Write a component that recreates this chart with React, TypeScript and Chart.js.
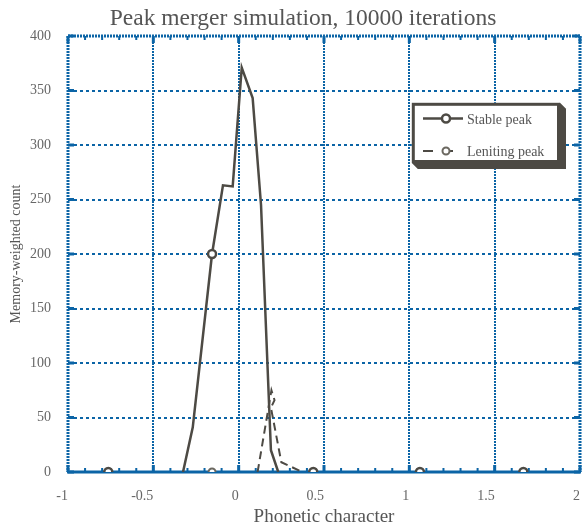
import { useEffect, useRef } from 'react';
import { Chart, registerables } from 'chart.js';

Chart.register(...registerables);

const TITLE = 'Peak merger simulation, 10000 iterations';
const X_TITLE = 'Phonetic character';
const Y_TITLE = 'Memory-weighted count';
const SERIES_NAMES = ['Stable peak', 'Leniting peak'];

const xTickValues = [-1, -0.5, 0, 0.5, 1, 1.5, 2];
const xTickLabels = ['-1', '-0.5', '0', '0.5', '1', '1.5', '2'];
const yTickValues = [0, 50, 100, 150, 200, 250, 300, 350, 400];

const stableX = [-1, -0.764, -0.326, -0.269, -0.156, -0.092, -0.035, 0.018, 0.082, 0.131, 0.189, 0.232, 0.437, 1.062, 1.668, 2];
const stableY = [0, 0, 0, 41, 200, 263, 262, 371, 343, 245, 20, 0, 0, 0, 0, 0];
const stableMarked = [false, true, false, false, true, false, false, false, false, false, false, false, true, true, true, false];

const lenitingX = [-1, -0.764, -0.156, 0.111, 0.192, 0.21, 0.189, 0.25, 0.373, 0.437, 1.062, 1.668, 2];
const lenitingY = [0, 0, 0, 0, 75, 66, 59, 9, 0, 0, 0, 0, 0];
const lenitingMarked = [false, true, true, false, false, false, false, false, false, true, true, true, false];

const BLUE = '#0b64a6';
const DARK = '#4d4a44';
const TEXT = '#555555';
const SERIF = "'Liberation Serif', 'Times New Roman', serif";
const CLEAR = 'rgba(0,0,0,0)';

const framePlugin = {
  id: 'frame',
  beforeDatasetsDraw(chart: any) {
    const { ctx } = chart;
    const xs = chart.scales.x;
    const ys = chart.scales.y;
    const l = xs.getPixelForValue(xTickValues[0]);
    const r = xs.getPixelForValue(xTickValues[xTickValues.length - 1]);
    const b = ys.getPixelForValue(yTickValues[0]);
    const t = ys.getPixelForValue(yTickValues[yTickValues.length - 1]);
    ctx.save();
    ctx.strokeStyle = BLUE;
    ctx.lineWidth = 3;
    ctx.setLineDash([2, 1]);
    ctx.beginPath();
    ctx.moveTo(l, t); ctx.lineTo(r, t);
    ctx.moveTo(l, t); ctx.lineTo(l, b);
    ctx.moveTo(r, t); ctx.lineTo(r, b);
    ctx.stroke();
    ctx.setLineDash([]);
    ctx.beginPath();
    ctx.moveTo(l - 1, b); ctx.lineTo(r + 1, b);
    ctx.stroke();
    const lo = xTickValues[0];
    const hi = xTickValues[xTickValues.length - 1];
    const n = Math.round((hi - lo) / 0.1);
    for (let k = 0; k <= n; k++) {
      const v = lo + k * 0.1;
      const px = xs.getPixelForValue(v);
      const major = k % 5 === 0;
      ctx.lineWidth = major ? 3 : 2;
      const len = major ? 7 : 4;
      ctx.beginPath();
      ctx.moveTo(px, b); ctx.lineTo(px, b - len);
      ctx.moveTo(px, t); ctx.lineTo(px, t + len);
      ctx.stroke();
    }
    ctx.lineWidth = 3;
    for (const v of yTickValues) {
      const py = ys.getPixelForValue(v);
      ctx.beginPath();
      ctx.moveTo(l, py); ctx.lineTo(l + 6, py);
      ctx.moveTo(r, py); ctx.lineTo(r - 6, py);
      ctx.stroke();
    }
    ctx.restore();
  },
};

const titleLegendPlugin = {
  id: 'titleLegend',
  afterDraw(chart: any) {
    const { ctx } = chart;
    ctx.save();
    ctx.fillStyle = TEXT;
    ctx.font = `23.5px ${SERIF}`;
    ctx.textAlign = 'center';
    ctx.textBaseline = 'alphabetic';
    ctx.fillText(TITLE, 303, 25);

    const ox1 = 411.8, oy1 = 102.8, ox2 = 560, oy2 = 163, sh = 6;
    ctx.fillStyle = DARK;
    ctx.beginPath();
    ctx.moveTo(ox2, oy1);
    ctx.lineTo(ox2 + sh, oy1 + sh);
    ctx.lineTo(ox2 + sh, oy2 + sh);
    ctx.lineTo(ox1 + sh, oy2 + sh);
    ctx.lineTo(ox1, oy2);
    ctx.closePath();
    ctx.fill();
    ctx.fillStyle = '#ffffff';
    ctx.fillRect(ox1, oy1, ox2 - ox1, oy2 - oy1);
    ctx.lineWidth = 3;
    ctx.strokeStyle = DARK;
    ctx.strokeRect(ox1 + 1.5, oy1 + 1.5, ox2 - ox1 - 3, oy2 - oy1 - 3);

    const y1 = 118.5;
    ctx.lineWidth = 2.5;
    ctx.beginPath();
    ctx.moveTo(423, y1); ctx.lineTo(463, y1);
    ctx.stroke();
    ctx.fillStyle = '#ffffff';
    ctx.beginPath();
    ctx.arc(446, y1, 4, 0, Math.PI * 2);
    ctx.fill();
    ctx.stroke();
    const y2 = 151;
    ctx.lineWidth = 2;
    ctx.setLineDash([10, 10]);
    ctx.beginPath();
    ctx.moveTo(423, y2); ctx.lineTo(463, y2);
    ctx.stroke();
    ctx.setLineDash([]);
    ctx.strokeStyle = '#6b6860';
    ctx.beginPath();
    ctx.arc(446, y2, 3.5, 0, Math.PI * 2);
    ctx.fill();
    ctx.stroke();

    ctx.fillStyle = TEXT;
    ctx.font = `14px ${SERIF}`;
    ctx.textAlign = 'left';
    ctx.fillText(SERIES_NAMES[0], 467, 123.5);
    ctx.fillText(SERIES_NAMES[1], 467, 155.5);
    ctx.restore();
  },
};

const zeroSegment = (ctx: any) =>
  ctx.p0.parsed.y === 0 && ctx.p1.parsed.y === 0 ? CLEAR : undefined;

export default function App() {
  const ref = useRef<HTMLCanvasElement | null>(null);

  useEffect(() => {
    if (!ref.current) return;
    const chart = new Chart(ref.current, {
      type: 'line',
      data: {
        datasets: [
          {
            label: SERIES_NAMES[0],
            data: stableX.map((x, i) => ({ x, y: stableY[i] })),
            borderColor: DARK,
            borderWidth: 2.5,
            tension: 0,
            pointRadius: stableMarked.map((m) => (m ? 4 : 0)),
            pointHoverRadius: 0,
            pointBorderWidth: 2.5,
            pointBorderColor: DARK,
            pointBackgroundColor: '#ffffff',
            segment: { borderColor: zeroSegment },
            order: 1,
          },
          {
            label: SERIES_NAMES[1],
            data: lenitingX.map((x, i) => ({ x, y: lenitingY[i] })),
            borderColor: DARK,
            borderWidth: 2,
            borderDash: [8, 5],
            tension: 0,
            pointRadius: lenitingMarked.map((m) => (m ? 3.5 : 0)),
            pointHoverRadius: 0,
            pointBorderWidth: 2,
            pointBorderColor: '#6b6860',
            pointBackgroundColor: '#ffffff',
            segment: { borderColor: zeroSegment },
            order: 2,
          },
        ],
      },
      options: {
        responsive: false,
        animation: false,
        events: [],
        layout: { padding: { top: 36, right: 5, left: 0, bottom: 0 } },
        plugins: {
          legend: { display: false },
          title: { display: false },
          tooltip: { enabled: false },
        },
        scales: {
          x: {
            type: 'linear',
            min: xTickValues[0],
            max: xTickValues[xTickValues.length - 1],
            afterBuildTicks: (s: any) => {
              s.ticks = xTickValues.map((v) => ({ value: v }));
            },
            afterFit: (s: any) => {
              s.height = 59;
              s.paddingLeft = 0;
              s.paddingRight = 0;
            },
            ticks: {
              align: 'end',
              padding: 16,
              color: '#666666',
              font: { family: SERIF, size: 14 },
              callback: (_v: any, i: number) => xTickLabels[i],
            },
            grid: {
              color: (c: any) =>
                c.tick && (c.tick.value === xTickValues[0] || c.tick.value === xTickValues[xTickValues.length - 1])
                  ? CLEAR
                  : BLUE,
              lineWidth: 2,
              drawTicks: false,
            },
            border: { display: false, dash: [2, 1] },
            title: {
              display: true,
              text: X_TITLE,
              color: TEXT,
              font: { family: SERIF, size: 19 },
              padding: { top: 0, bottom: 3 },
            },
          },
          y: {
            type: 'linear',
            min: yTickValues[0],
            max: yTickValues[yTickValues.length - 1],
            afterBuildTicks: (s: any) => {
              s.ticks = yTickValues.map((v) => ({ value: v }));
            },
            afterFit: (s: any) => {
              s.width = 68;
              s.paddingTop = 0;
              s.paddingBottom = 0;
            },
            ticks: {
              padding: 17,
              color: '#666666',
              font: { family: SERIF, size: 14 },
              callback: (v: any) => String(v),
            },
            grid: {
              color: (c: any) =>
                c.tick && (c.tick.value === yTickValues[0] || c.tick.value === yTickValues[yTickValues.length - 1])
                  ? CLEAR
                  : BLUE,
              lineWidth: 2,
              drawTicks: false,
            },
            border: { display: false, dash: [3, 3] },
            title: {
              display: true,
              text: Y_TITLE,
              color: TEXT,
              font: { family: SERIF, size: 14 },
              padding: { top: 8, bottom: 0 },
            },
          },
        },
      },
      plugins: [framePlugin, titleLegendPlugin],
    } as any);
    return () => chart.destroy();
  }, []);

  return (
    <div style={{ position: 'fixed', left: 0, top: 0, width: 585, height: 531, background: '#ffffff' }}>
      <canvas ref={ref} width={585} height={531} style={{ display: 'block' }} />
    </div>
  );
}
